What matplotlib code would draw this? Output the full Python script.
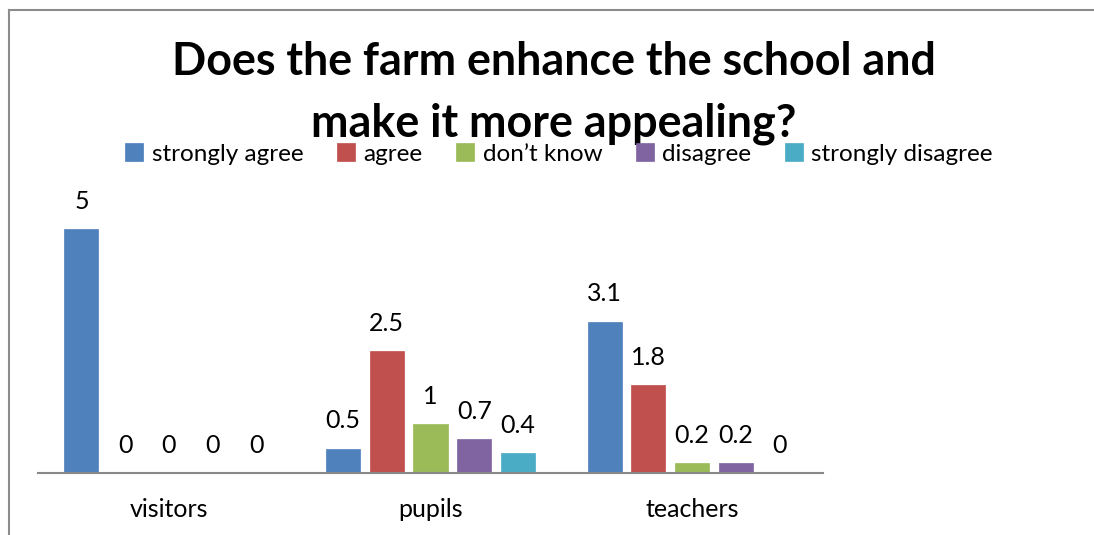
import matplotlib.pyplot as plt
import numpy as np
from matplotlib.lines import Line2D

plt.rcParams['font.family'] = ['Lato', 'DejaVu Sans']

categories = ["visitors", "pupils", "teachers"]
series = ["strongly agree", "agree", "don\u2019t know", "disagree", "strongly disagree"]
strongly_agree = [5, 0.5, 3.1]
agree = [0, 2.5, 1.8]
dont_know = [0, 1, 0.2]
disagree = [0, 0.7, 0.2]
strongly_disagree = [0, 0.4, 0]
colors = ["#4F81BD", "#C0504D", "#9BBB59", "#8064A2", "#4BACC6"]

values = [strongly_agree, agree, dont_know, disagree, strongly_disagree]

fig = plt.figure(figsize=(10.94, 5.35), dpi=100)
ax = fig.add_axes([38 / 1094, 1 - 473 / 535, 785 / 1094, 293 / 535])

x = np.arange(len(categories))
step = 0.167
width = 0.13
for i, (name, vals, c) in enumerate(zip(series, values, colors)):
    pos = x + (i - 2) * step
    bars = ax.bar(pos, vals, width, color=c, label=name, edgecolor=c, linewidth=0.5)
    for b, v in zip(bars, vals):
        ax.annotate(f"{v:g}", (b.get_x() + b.get_width() / 2, v),
                    xytext=(0, 20), textcoords="offset points",
                    ha="center", va="center", fontsize=18)

ax.set_xlim(-0.5, 2.5)
ax.set_ylim(0, 6)
ax.set_xticks(x)
ax.set_xticklabels(categories, fontsize=18)
ax.tick_params(axis="x", length=0, pad=18)
ax.set_yticks([])
for s in ["top", "right", "left"]:
    ax.spines[s].set_visible(False)
ax.spines["bottom"].set_color("#888888")
ax.spines["bottom"].set_linewidth(1.5)

fig.text(0.506, 1 - 62 / 535, "Does the farm enhance the school and",
         ha="center", va="center", fontsize=32.3, fontweight="bold")
fig.text(0.506, 1 - 124 / 535, "make it more appealing?",
         ha="center", va="center", fontsize=32.3, fontweight="bold")

fig.legend(loc="center", bbox_to_anchor=(559 / 1094, 1 - 154 / 535), ncol=5,
           frameon=False, fontsize=17.5, handlelength=0.75, handleheight=0.75,
           handletextpad=0.35, columnspacing=1.37)

# page border on the left and top
fig.add_artist(Line2D([9 / 1094, 9 / 1094], [0, 1 - 10 / 535], color="#8c8c8c", lw=1.5))
fig.add_artist(Line2D([9 / 1094, 1], [1 - 10 / 535, 1 - 10 / 535], color="#8c8c8c", lw=1.5))

fig.savefig("out.png", dpi=100)
